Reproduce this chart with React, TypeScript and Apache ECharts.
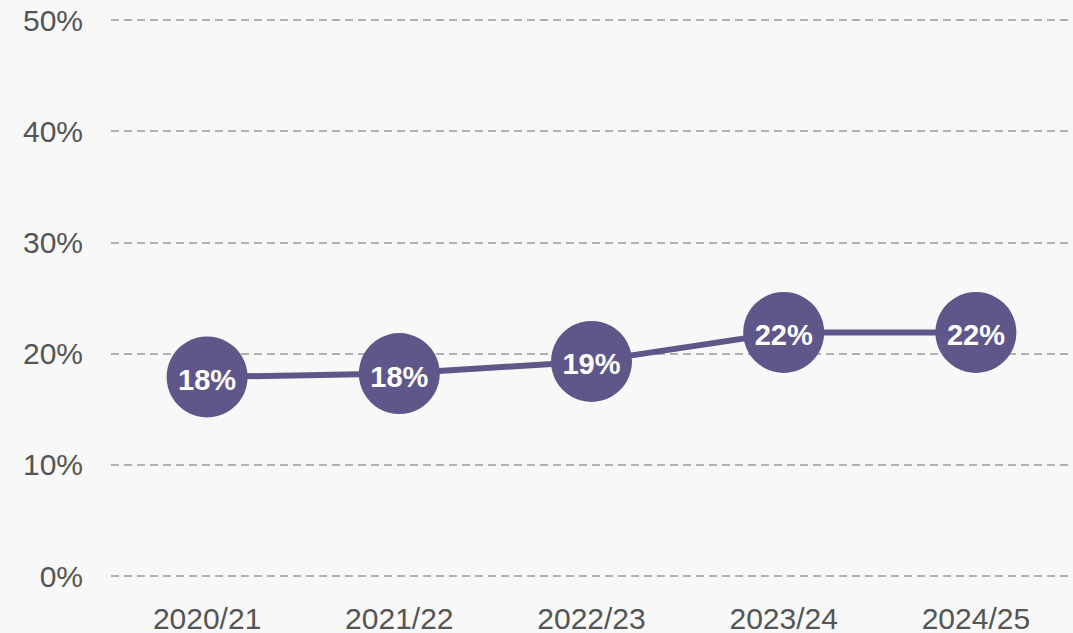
import React, { useEffect, useRef } from "react";
import * as echarts from "echarts";

const categories = ["2020/21", "2021/22", "2022/23", "2023/24", "2024/25"];
const values = [17.9, 18.2, 19.3, 21.9, 21.9];
const yTicks = [0, 10, 20, 30, 40, 50];

export default function App() {
  const ref = useRef<HTMLDivElement>(null);
  useEffect(() => {
    if (!ref.current) return;
    const chart = echarts.init(ref.current, null, { renderer: "svg" });
    chart.setOption({
      animation: false,
      backgroundColor: "#f7f8f7",
      textStyle: { fontFamily: "'Liberation Sans', Arial, sans-serif" },
      grid: { left: 111, right: 1, top: 20, bottom: 56, containLabel: false },
      xAxis: {
        type: "category",
        data: categories,
        boundaryGap: true,
        axisLine: { show: false },
        axisTick: { show: false },
        axisLabel: { color: "#555", fontSize: 30, margin: 27 },
      },
      yAxis: {
        type: "value",
        min: yTicks[0],
        max: yTicks[yTicks.length - 1],
        interval: 10,
        axisLine: { show: false },
        axisTick: { show: false },
        axisLabel: { color: "#555", fontSize: 30, margin: 28, formatter: (v: number) => `${v}%` },
        splitLine: { lineStyle: { color: "#999", type: [8, 5], width: 1.5 } },
      },
      series: [
        {
          type: "line",
          data: values,
          symbol: "circle",
          symbolSize: 81,
          lineStyle: { color: "#5f578a", width: 6 },
          itemStyle: { color: "#5f578a" },
          label: {
            show: true,
            position: "inside",
            offset: [0, 3],
            color: "#fff",
            fontSize: 29,
            fontWeight: "bold",
            formatter: (p: any) => `${Math.round(p.value)}%`,
          },
        },
      ],
    });
    return () => chart.dispose();
  }, []);
  return (
    <div
      ref={ref}
      style={{ position: "fixed", left: 0, top: 0, width: 1073, height: 633 }}
    />
  );
}
